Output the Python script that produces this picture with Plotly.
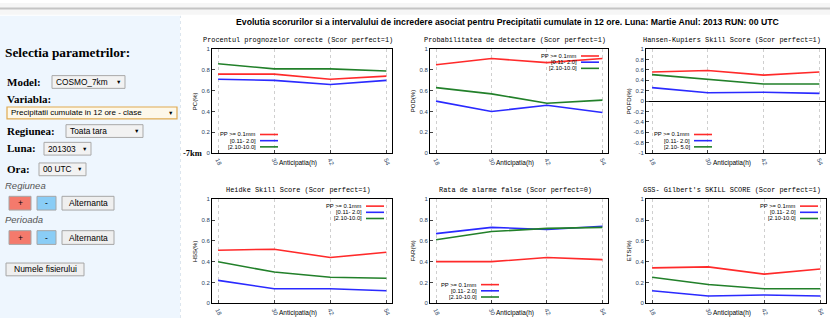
import plotly.graph_objects as go

W, H = 830, 321
def X(px): return px / W
def Y(py): return 1 - py / H

# ---------------- data ----------------
lead_hours = [18, 30, 42, 54]
tick_labels = ["18", "30", "42", "54"]

series_names_a = ["PP >= 0.1mm", "[0.11- 2.0]", "[2.10-10.0]"]
series_names_b = ["PP >= 0.1mm", "[0.11- 2.0]", "[2.10- 5.0]"]

pc_red = [0.76, 0.76, 0.71, 0.74]
pc_blue = [0.71, 0.70, 0.66, 0.70]
pc_green = [0.86, 0.81, 0.81, 0.79]

pod_red = [0.85, 0.91, 0.87, 0.91]
pod_blue = [0.50, 0.40, 0.46, 0.39]
pod_green = [0.63, 0.57, 0.48, 0.51]

hk_red = [0.56, 0.59, 0.50, 0.56]
hk_blue = [0.26, 0.16, 0.17, 0.15]
hk_green = [0.51, 0.42, 0.33, 0.33]

hss_red = [0.51, 0.52, 0.44, 0.49]
hss_blue = [0.22, 0.14, 0.14, 0.12]
hss_green = [0.40, 0.30, 0.25, 0.24]

far_red = [0.40, 0.40, 0.44, 0.42]
far_blue = [0.67, 0.73, 0.71, 0.74]
far_green = [0.61, 0.69, 0.72, 0.73]

ets_red = [0.34, 0.35, 0.28, 0.33]
ets_blue = [0.12, 0.07, 0.08, 0.07]
ets_green = [0.25, 0.18, 0.14, 0.14]

colors = ["#ff2a2a", "#2a2aff", "#22802a"]

charts = [
    dict(title="Procentul prognozelor corecte (Scor perfect=1)", ylab="PC(%)",
         vals=[pc_red, pc_blue, pc_green], names=series_names_a, yr=[0, 1], dt=0.2,
         box=(212, 392, 47, 153), leg=("ll", 257, 134)),
    dict(title="Probabilitatea de detectare (Scor perfect=1)", ylab="POD(%)",
         vals=[pod_red, pod_blue, pod_green], names=series_names_a, yr=[0, 1], dt=0.2,
         box=(430, 608, 47, 153), leg=("tr", 578, 54)),
    dict(title="Hansen-Kupiers Skill Score (Scor perfect=1)", ylab="POFD(%)",
         vals=[hk_red, hk_blue, hk_green], names=series_names_b, yr=[-1, 1], dt=0.2,
         box=(646, 825, 47, 153), leg=("ll", 691, 134)),
    dict(title="Heidke Skill Score (Scor perfect=1)", ylab="HSS(%)",
         vals=[hss_red, hss_blue, hss_green], names=series_names_a, yr=[0, 1], dt=0.2,
         box=(212, 392, 200, 306), leg=("tr", 363, 207)),
    dict(title="Rata de alarme false (Scor perfect=0)", ylab="FAR(%)",
         vals=[far_red, far_blue, far_green], names=series_names_a, yr=[0, 1], dt=0.2,
         box=(430, 608, 200, 306), leg=("ll", 478, 287)),
    dict(title="GSS- Gilbert's SKILL SCORE (Scor perfect=1)", ylab="ETS(%)",
         vals=[ets_red, ets_blue, ets_green], names=series_names_a, yr=[0, 1], dt=0.2,
         box=(646, 826, 200, 306), leg=("tr", 797, 207)),
]

fig = go.Figure()
shapes = []
ann = []

# ---------------- page background ----------------
shapes.append(dict(type="rect", xref="paper", yref="paper", x0=0, x1=1, y0=Y(12), y1=1,
                   fillcolor="#f6f6f6", line=dict(width=0), layer="below"))
shapes.append(dict(type="line", xref="paper", yref="paper", x0=0, x1=1, y0=Y(5.5), y1=Y(5.5),
                   line=dict(color="#c4c4c4", width=2), layer="below"))
shapes.append(dict(type="rect", xref="paper", yref="paper", x0=0, x1=X(180), y0=0, y1=Y(13),
                   fillcolor="#eef6fe", line=dict(width=0), layer="below"))
shapes.append(dict(type="line", xref="paper", yref="paper", x0=X(180.5), x1=X(180.5), y0=0, y1=Y(13),
                   line=dict(color="#dde6ee", width=1, dash="dot"), layer="below"))

serif = "Liberation Serif"
sans = "Liberation Sans"
mono = "Liberation Mono"

def text(px, py, s, size, family=sans, color="#000", xanchor="left", bold=False, italic=False, angle=0):
    if bold:
        s = "<b>" + s + "</b>"
    if italic:
        s = "<i>" + s + "</i>"
    ann.append(dict(xref="paper", yref="paper", x=X(px), y=Y(py), text=s, showarrow=False,
                    xanchor=xanchor, yanchor="middle", textangle=angle,
                    borderpad=0, font=dict(size=size, family=family, color=color)))

def box(x0, x1, y0, y1, fill="#f2f2f2", border="#a9a9a9", lw=1):
    shapes.append(dict(type="rect", xref="paper", yref="paper", x0=X(x0), x1=X(x1), y0=Y(y1), y1=Y(y0),
                       fillcolor=fill, line=dict(color=border, width=lw)))

def dropdown(x0, x1, y0, y1, label, fill="#f2f2f2", border="#a9a9a9", lw=1, size=8.3):
    box(x0, x1, y0, y1, fill, border, lw)
    text(x0 + 3, (y0 + y1) / 2, label, size)
    text(x1 - 3, (y0 + y1) / 2, "▼", 5.5, xanchor="right")

def button(x0, x1, y0, y1, label, fill):
    box(x0, x1, y0, y1, fill, "#a6a6a6")
    text((x0 + x1) / 2, (y0 + y1) / 2, label, 8.5, xanchor="center")

# ---------------- left panel ----------------
text(4, 50, "Selectia parametrilor:", 13.3, serif, bold=True)
text(6, 80, "Model:", 11, serif, bold=True)
dropdown(52, 125, 74, 87, "COSMO_7km")
text(6, 98, "Variabla:", 11, serif, bold=True)
dropdown(7, 177, 106, 118, "Precipitatii cumulate in 12 ore - clase", fill="#fdf8ea",
         border="#e0aa50", lw=1.2, size=8)
text(6, 130, "Regiunea:", 11, serif, bold=True)
dropdown(66, 143, 124, 137, "Toata tara")
text(6, 148, "Luna:", 11, serif, bold=True)
dropdown(44, 91, 142, 155, "201303")
text(6, 169, "Ora:", 11, serif, bold=True)
dropdown(39, 86, 163, 176, "00 UTC")
text(4, 186, "Regiunea", 9.5, sans, color="#555", italic=True)
button(9, 31, 197, 211, "+", "#f47a6c")
button(37, 56, 197, 211, "-", "#8acdf6")
button(62, 114, 197, 211, "Alternanta", "#efefef")
text(4, 221, "Perioada", 9.5, sans, color="#555", italic=True)
button(9, 31, 232, 246, "+", "#f47a6c")
button(37, 56, 232, 246, "-", "#8acdf6")
button(62, 114, 232, 246, "Alternanta", "#efefef")
button(6, 84, 265, 278, "Numele fisierului", "#efefef")
text(182, 153, "-7km", 8.5, serif, bold=True)

# ---------------- main title ----------------
text(508, 19, "Evolutia scorurilor si a intervalului de incredere asociat pentru Precipitatii cumulate in 12 ore. "
     "Luna: Martie Anul: 2013 RUN: 00 UTC", 8.7, sans, xanchor="center", bold=True)

# ---------------- charts ----------------
layout_axes = {}
for i, c in enumerate(charts, start=1):
    x0, x1, y0, y1 = c["box"]
    xa = "x" if i == 1 else f"x{i}"
    ya = "y" if i == 1 else f"y{i}"
    for k, vals in enumerate(c["vals"]):
        fig.add_trace(go.Scatter(x=lead_hours, y=vals, mode="lines", xaxis=xa, yaxis=ya,
                                 line=dict(color=colors[k], width=1.6), showlegend=False,
                                 name=c["names"][k]))
    xkey = "xaxis" if i == 1 else f"xaxis{i}"
    ykey = "yaxis" if i == 1 else f"yaxis{i}"
    n = int(round((c["yr"][1] - c["yr"][0]) / c["dt"]))
    yt = [round(c["yr"][0] + j * c["dt"], 2) for j in range(n + 1)]
    ytl = [("%g" % v) for v in yt]
    layout_axes[xkey] = dict(domain=[X(x0), X(x1)], anchor=ya, range=[16.7, 55.2],
                             tickvals=lead_hours, ticktext=tick_labels, tickangle=65,
                             tickfont=dict(size=6, family=sans), showgrid=True,
                             gridcolor="#cfcfcf", griddash="dot", gridwidth=1,
                             showline=True, linecolor="#000", linewidth=1, mirror=True,
                             ticks="inside", ticklen=3, zeroline=False, fixedrange=True)
    layout_axes[ykey] = dict(domain=[Y(y1), Y(y0)], anchor=xa, range=c["yr"],
                             tickvals=yt, ticktext=ytl, tickfont=dict(size=6, family=sans),
                             showgrid=False, showline=True, linecolor="#000", linewidth=1,
                             mirror=True, ticks="inside", ticklen=3,
                             zeroline=(c["yr"][0] < 0), zerolinecolor="#000", zerolinewidth=1,
                             fixedrange=True)
    # chart title
    text((x0 + x1) / 2 - 4, y0 - 9, c["title"], 6.9, mono, xanchor="center")
    # y label
    text(x0 - 17, (y0 + y1) / 2, c["ylab"], 6, sans, xanchor="center", angle=-90)
    # x label
    text((x0 + x1) / 2 - 4, y1 + 10, "Anticipatia(h)", 6.5, sans, xanchor="center")
    # legend
    pos, tx, ty = c["leg"]
    for k in range(3):
        yy = ty + k * 6.3
        text(tx, yy, c["names"][k], 5.8, sans, xanchor="right")
        shapes.append(dict(type="line", xref="paper", yref="paper", x0=X(tx + 3), x1=X(tx + 21),
                           y0=Y(yy), y1=Y(yy), line=dict(color=colors[k], width=1.6)))

fig.update_layout(width=W, height=H, margin=dict(l=0, r=0, t=0, b=0),
                  paper_bgcolor="#ffffff", plot_bgcolor="rgba(0,0,0,0)",
                  showlegend=False, shapes=shapes, annotations=ann, **layout_axes)

fig.write_html("out.html", config={"displayModeBar": False})
